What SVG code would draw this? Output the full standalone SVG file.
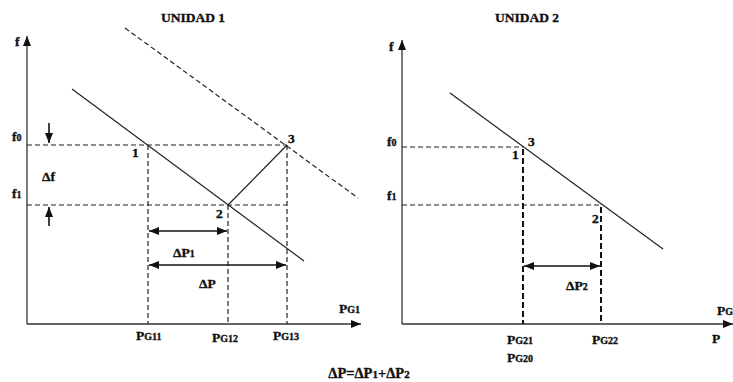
<svg xmlns="http://www.w3.org/2000/svg" width="733" height="382" viewBox="0 0 733 382">
<defs>
<style>
text{font-family:"Liberation Serif","DejaVu Serif",serif;font-weight:bold;fill:#111;stroke:#111;stroke-width:0.35;font-size:13.5px}
.s{font-size:10px}
.axis{stroke:#333;stroke-width:1.3;fill:none}
.solid{stroke:#222;stroke-width:1.2;fill:none}
.dash{stroke:#222;stroke-width:1.2;stroke-dasharray:5 3;fill:none}
.tdash{stroke:#111;stroke-width:2;stroke-dasharray:6 3;fill:none}
.arr{stroke:#111;stroke-width:1.6;fill:none}
</style>
<marker id="ah" viewBox="0 0 10 8" refX="10" refY="4" markerWidth="11" markerHeight="8" markerUnits="userSpaceOnUse" orient="auto-start-reverse">
<path d="M0,0 L10,4 L0,8 Z" fill="#111"/>
</marker>
</defs>
<g id="titles">
<text x="193" y="22" text-anchor="middle">UNIDAD 1</text>
<text x="527" y="22" text-anchor="middle">UNIDAD 2</text>
</g>
<g id="unit1-axes">
<line class="axis" x1="27" y1="324" x2="27" y2="36" marker-end="url(#ah)"/>
<line class="axis" x1="27" y1="324" x2="361" y2="324" marker-end="url(#ah)"/>
<text x="15" y="46">f</text>
<text x="12" y="141">f<tspan class="s">0</tspan></text>
<text x="12" y="198">f<tspan class="s">1</tspan></text>
<text x="339" y="313">P<tspan class="s">G1</tspan></text>
<text x="136" y="340">P<tspan class="s">G11</tspan></text>
<text x="212" y="342">P<tspan class="s">G12</tspan></text>
<text x="273" y="340">P<tspan class="s">G13</tspan></text>
</g>
<g id="unit1-curves">
<line class="solid" x1="72" y1="89" x2="304" y2="261"/>
<line class="dash" x1="125" y1="28" x2="358" y2="198"/>
<line class="solid" x1="228" y1="205" x2="287" y2="145"/>
</g>
<g id="unit1-guides">
<line class="dash" x1="27" y1="145" x2="287" y2="145"/>
<line class="dash" x1="27" y1="205" x2="287" y2="205"/>
<line class="dash" x1="148" y1="145" x2="148" y2="324"/>
<line class="dash" x1="228" y1="205" x2="228" y2="324"/>
<line class="dash" x1="287" y1="145" x2="287" y2="324"/>
</g>
<g id="unit1-points">
<text x="132" y="157">1</text>
<text x="288" y="143">3</text>
<text x="216" y="218">2</text>
</g>
<g id="unit1-deltas">
<line class="arr" x1="49" y1="123" x2="49" y2="143" marker-end="url(#ah)"/>
<line class="arr" x1="49" y1="226" x2="49" y2="207" marker-end="url(#ah)"/>
<text x="42" y="181">Δf</text>
<line class="arr" x1="149" y1="231" x2="227" y2="231" marker-start="url(#ah)" marker-end="url(#ah)"/>
<text x="173" y="257">ΔP<tspan class="s">1</tspan></text>
<line class="arr" x1="149" y1="265" x2="286" y2="265" marker-start="url(#ah)" marker-end="url(#ah)"/>
<text x="199" y="288">ΔP</text>
</g>
<g id="unit2-axes">
<line class="axis" x1="402" y1="324" x2="402" y2="40" marker-end="url(#ah)"/>
<line class="axis" x1="402" y1="324" x2="733" y2="324" marker-end="url(#ah)"/>
<text x="389" y="51">f</text>
<text x="387" y="146">f<tspan class="s">0</tspan></text>
<text x="387" y="200">f<tspan class="s">1</tspan></text>
<text x="717" y="315">P<tspan class="s">G</tspan></text>
<text x="712" y="343">P</text>
<text x="507" y="344">P<tspan class="s">G21</tspan></text>
<text x="507" y="362">P<tspan class="s">G20</tspan></text>
<text x="592" y="344">P<tspan class="s">G22</tspan></text>
</g>
<g id="unit2-curves">
<line class="solid" x1="450" y1="93" x2="663" y2="249"/>
</g>
<g id="unit2-guides">
<line class="dash" x1="402" y1="147" x2="523" y2="147"/>
<line class="dash" x1="402" y1="205" x2="601" y2="205"/>
<line class="tdash" x1="523" y1="149" x2="523" y2="324"/>
<line class="tdash" x1="601" y1="207" x2="601" y2="324"/>
</g>
<g id="unit2-points">
<text x="528" y="146">3</text>
<text x="512" y="159">1</text>
<text x="592" y="223">2</text>
</g>
<g id="unit2-deltas">
<line class="arr" x1="524" y1="266" x2="600" y2="266" marker-start="url(#ah)" marker-end="url(#ah)"/>
<text x="566" y="290">ΔP<tspan class="s">2</tspan></text>
</g>
<g id="formula">
<text x="369" y="378" text-anchor="middle" style="font-size:14.5px">ΔP=ΔP<tspan class="s" style="font-size:11px">1</tspan>+ΔP<tspan class="s" style="font-size:11px">2</tspan></text>
</g>
</svg>
